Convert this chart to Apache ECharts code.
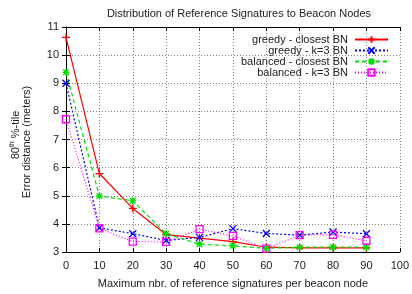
<!DOCTYPE html>
<html>
<head>
<meta charset="utf-8">
<script src="https://cdn.jsdelivr.net/npm/echarts@6/dist/echarts.min.js"></script>
<style>
  html, body { margin: 0; padding: 0; background: #fff; }
  #chart { width: 412px; height: 294px; }
</style>
</head>
<body>
<div id="chart"></div>
<script>
// x values: maximum number of reference signatures per beacon node
const xValues = [0, 10, 20, 30, 40, 50, 60, 70, 80, 90]

const greedyClosest = [10.63, 5.79, 4.55, 3.62, 3.49, 3.37, 3.17, 3.15, 3.15, 3.15]
const greedyK3 = [9.0, 3.86, 3.65, 3.41, 3.52, 3.83, 3.66, 3.6, 3.71, 3.65]
const balancedClosest = [9.39, 4.99, 4.82, 3.65, 3.28, 3.22, 3.13, 3.17, 3.17, 3.17]
const balancedK3 = [7.72, 3.84, 3.37, 3.36, 3.81, 3.57, 3.12, 3.6, 3.61, 3.4]

const seriesNames = ['greedy - closest BN', 'greedy - k=3 BN', 'balanced - closest BN', 'balanced - k=3 BN']
const seriesColors = ['#ff0000', '#0000ff', '#00dd00', '#ff00ff']

const FONT = 'Liberation Sans'

// gnuplot-like point shapes
const plusPath = 'path://M5,0L5,10M0,5L10,5'
const crossPath = 'path://M0,0L10,10M10,0L0,10'
const starPath = 'path://M5,0L5,10M0,5L10,5M1,1L9,9M9,1L1,9'
const squarePath = 'path://M0,0L10,0L10,10L0,10Z'

const pair = (ys) => xValues.map((x, i) => [x, ys[i]])

const makeSeries = (name, data, color, symbol, dash, size) => ({
  name,
  type: 'line',
  data: pair(data),
  symbol,
  symbolSize: size,
  showSymbol: true,
  color,
  lineStyle: { color, width: 1.2, type: dash },
  itemStyle: { color: 'rgba(0,0,0,0)', borderColor: color, borderWidth: 1.3 },
  emphasis: { disabled: true },
  z: 3
})

const chart = echarts.init(document.getElementById('chart'), null, { renderer: 'canvas' })

const gridLine = { show: true, lineStyle: { color: '#666', width: 0.8, type: [1, 2] } }

const option = {
  backgroundColor: '#fff',
  animation: false,
  textStyle: { fontFamily: FONT },
  title: {
    text: 'Distribution of Reference Signatures to Beacon Nodes',
    left: 234,
    top: 3,
    textAlign: 'center',
    textStyle: { fontFamily: FONT, fontSize: 11, fontWeight: 'normal', color: '#222' }
  },
  legend: {
    orient: 'vertical',
    right: 23,
    top: 34,
    align: 'right',
    itemWidth: 33,
    itemHeight: 8,
    itemGap: 0,
    padding: 0,
    data: seriesNames,
    textStyle: { fontFamily: FONT, fontSize: 11, lineHeight: 11, color: '#222', width: 160, align: 'right', padding: [0, 2, 0, 0] }
  },
  grid: { left: 66, right: 8, top: 27, bottom: 42, containLabel: false },
  xAxis: [
    {
      type: 'value',
      min: 0,
      max: 100,
      interval: 10,
      name: 'Maximum nbr. of reference signatures per beacon node',
      nameLocation: 'middle',
      nameGap: 26,
      nameTextStyle: { fontFamily: FONT, fontSize: 11, color: '#222' },
      axisLine: { show: true, lineStyle: { color: '#000', width: 1 } },
      axisTick: { show: true, inside: true, length: 4, lineStyle: { color: '#000' } },
      axisLabel: { fontFamily: FONT, fontSize: 11, color: '#222', margin: 8 },
      splitLine: gridLine
    },
    {
      type: 'value',
      position: 'top',
      min: 0,
      max: 100,
      interval: 10,
      axisLine: { show: true, lineStyle: { color: '#000', width: 1 } },
      axisTick: { show: true, inside: true, length: 4, lineStyle: { color: '#000' } },
      axisLabel: { show: false },
      splitLine: { show: false }
    }
  ],
  yAxis: [
    {
      type: 'value',
      min: 3,
      max: 11,
      interval: 1,
      axisLine: { show: true, lineStyle: { color: '#000', width: 1 } },
      axisTick: { show: true, inside: true, length: 4, lineStyle: { color: '#000' } },
      axisLabel: { fontFamily: FONT, fontSize: 11, color: '#222', margin: 7 },
      splitLine: gridLine
    },
    {
      type: 'value',
      position: 'right',
      min: 3,
      max: 11,
      interval: 1,
      axisLine: { show: true, lineStyle: { color: '#000', width: 1 } },
      axisTick: { show: true, inside: true, length: 4, lineStyle: { color: '#000' } },
      axisLabel: { show: false },
      splitLine: { show: false }
    }
  ],
  graphic: [
    {
      type: 'text',
      x: 16,
      y: 135,
      rotation: Math.PI / 2,
      style: {
        text: '{n|80}{s|th} {n|%-tile}',
        fill: '#222',
        align: 'center',
        verticalAlign: 'middle',
        font: '11px "Liberation Sans"',
        rich: {
          n: { fontFamily: FONT, fontSize: 11, fill: '#222', lineHeight: 14 },
          s: { fontFamily: FONT, fontSize: 7, fill: '#222', verticalAlign: 'top', lineHeight: 14 }
        }
      }
    },
    {
      type: 'text',
      x: 27,
      y: 142,
      rotation: Math.PI / 2,
      style: {
        text: 'Error distance (meters)',
        fill: '#222',
        align: 'center',
        verticalAlign: 'middle',
        font: '11px "Liberation Sans"'
      }
    }
  ],
  series: [
    makeSeries(seriesNames[0], greedyClosest, seriesColors[0], plusPath, 'solid', 8),
    makeSeries(seriesNames[1], greedyK3, seriesColors[1], crossPath, [2, 2], 7),
    makeSeries(seriesNames[2], balancedClosest, seriesColors[2], starPath, [4, 3], 7),
    makeSeries(seriesNames[3], balancedK3, seriesColors[3], squarePath, [1, 2], 7)
  ]
}

chart.setOption(option)
</script>
</body>
</html>
